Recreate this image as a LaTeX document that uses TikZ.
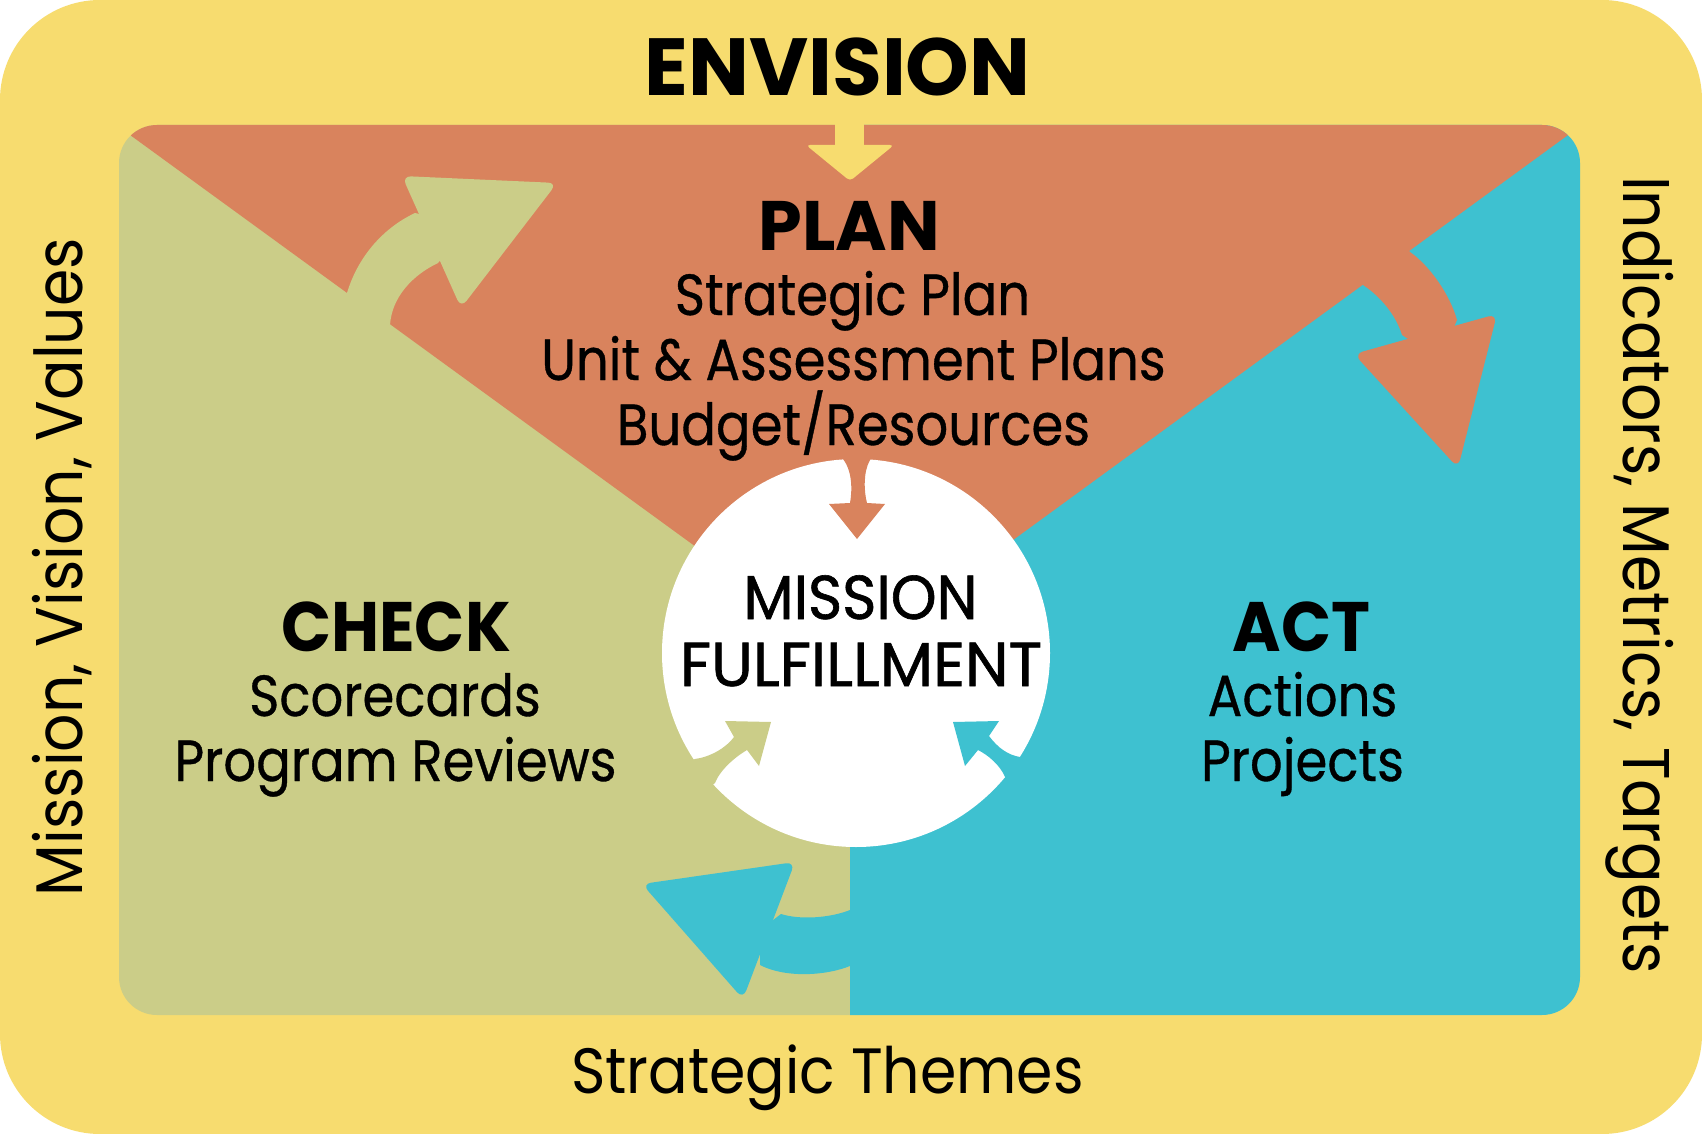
\documentclass[tikz,border=0pt]{standalone}
\usepackage{fontspec}
\setmainfont{Poppins}
\newfontfamily\bodyfont[FakeStretch=0.885, FakeBold=0.6]{Poppins}
\newfontfamily\midfont[FakeStretch=0.94, FakeBold=1.0]{Poppins}
\newfontfamily\fulfont[FakeStretch=1.0, FakeBold=1.0]{Poppins}
\newfontfamily\sidefont[FakeStretch=0.91]{Poppins}
\newfontfamily\themefont[FakeStretch=0.915]{Poppins}
\newfontfamily\cafont[FakeStretch=0.94]{Poppins}
\definecolor{yel}{HTML}{F7DC6F}
\definecolor{org}{HTML}{D9835D}
\definecolor{grn}{HTML}{CBCD88}
\definecolor{blu}{HTML}{3EC1D0}
\newcommand{\fs}[1]{\fontsize{#1pt}{#1pt}\selectfont}
\begin{document}
\begin{tikzpicture}[x=1pt,y=-1pt,
  lbl/.style={anchor=base, inner sep=0pt, text=black},
  headtxt/.style={lbl, font=\fs{70}\bfseries},
  catxt/.style={lbl, font=\cafont\fs{70}\bfseries},
  bodytxt/.style={lbl, font=\bodyfont\fs{58}},
  midtxt/.style={lbl, font=\midfont\fs{62}},
  fultxt/.style={lbl, font=\fulfont\fs{62}},
  sidetxt/.style={lbl, font=\sidefont\fs{66}}]
\useasboundingbox (0,0) rectangle (1702,1134);
\fill[white] (0,0) rectangle (1702,1134);
\fill[yel, rounded corners=100pt] (0,0) rectangle (1702,1134);
% panel
\begin{scope}
\clip[rounded corners=38pt] (119,125) rectangle (1580,1015);
\fill[grn] (100,100) rectangle (850,1030);
\fill[blu] (850,100) rectangle (1600,1030);
\fill[org] (82,100) -- (850,659) -- (1616,100) -- cycle;
\end{scope}
% envision arrow (yellow)
\fill[yel] (835,120) rectangle (864,150);
\fill[yel, rounded corners=4pt] (806,145) -- (894,145) -- (850,181) -- cycle;
% green big arrow
\fill[grn] (335,335) -- (347,293) .. controls (357.5,258) and (381.9,228.6) .. (415,213)
  -- (470,225) -- (438,263) .. controls (412.7,275) and (391.8,297) .. (390,325) -- (385,345) -- cycle;
\fill[grn, rounded corners=9pt] (402,176) -- (557,183) -- (461,308) -- cycle;
% orange big arrow
\fill[org] (1400,238) -- (1410,252) .. controls (1430,266) and (1450,295) .. (1457,320)
  -- (1440,360) -- (1402,335) .. controls (1396,315) and (1380,296) .. (1363,285) -- (1355,275) -- cycle;
\fill[org, rounded corners=9pt] (1354,354) -- (1497,314) -- (1458,468) -- cycle;
% blue big arrow
\fill[blu] (870,905) -- (850,910) .. controls (830,918) and (800,920) .. (781,914)
  -- (760,930) -- (760,965) .. controls (785,978) and (825,976) .. (850,966) -- (870,960) -- cycle;
\fill[blu, rounded corners=9pt] (642,884) -- (795,862) -- (743,999) -- cycle;
% circle
\node[circle, fill=white, minimum size=388pt, inner sep=0pt] (mf) at (856,653) {};
% top notch (orange)
\fill[org] (835,440) -- (843,459) .. controls (853,472) and (852,492) .. (850,503)
  -- (829,504) -- (857,539) -- (885,504) -- (867,503)
  .. controls (864,492) and (863,472) .. (870,460) -- (878,440) -- cycle;
% bottom-left notch (green)
\fill[grn] (734,737) .. controls (726,748) and (710,757) .. (695,759) -- (680,765) -- (700,795)
  -- (715,783) .. controls (720,770) and (735,757) .. (747,750) -- (759,766) -- (771,722) -- (725,721) -- cycle;
% bottom-right notch (blue)
\fill[blu] (989,736) .. controls (998,748) and (1008,755) .. (1020,757) -- (1040,762) -- (1020,792)
  -- (1005,777) .. controls (1000,765) and (988,755) .. (978,750) -- (965,766) -- (953,722) -- (999,721) -- cycle;
% texts
\node[lbl, font=\fs{81}\bfseries] (envision) at (837.5,95.5) {ENVISION};
\node[headtxt] (plan) at (849.5,250) {PLAN};
\node[bodytxt] (p1) at (852.5,315) {Strategic Plan};
\node[bodytxt] (p2) at (853.5,380) {Unit \& Assessment Plans};
\node[bodytxt] (p3) at (853.5,445) {Budget/Resources};
\node[midtxt] (m1) at (860.5,619) {MISSION};
\node[fultxt] (m2) at (861,686) {FULFILLMENT};
\node[catxt] (check) at (396,651) {CHECK};
\node[bodytxt] (c1) at (395,716) {Scorecards};
\node[bodytxt] (c2) at (395.5,781) {Program Reviews};
\node[catxt] (act) at (1301.5,651) {ACT};
\node[bodytxt] (a1) at (1302.5,716) {Actions};
\node[bodytxt] (a2) at (1302.5,781) {Projects};
\node[lbl, font=\themefont\fs{64}] (themes) at (827.5,1093) {Strategic Themes};
\node[sidetxt, rotate=90] (mvv) at (82,567) {Mission, Vision, Values};
\node[sidetxt, rotate=-90] (imt) at (1623,575) {Indicators, Metrics, Targets};
\end{tikzpicture}
\end{document}
